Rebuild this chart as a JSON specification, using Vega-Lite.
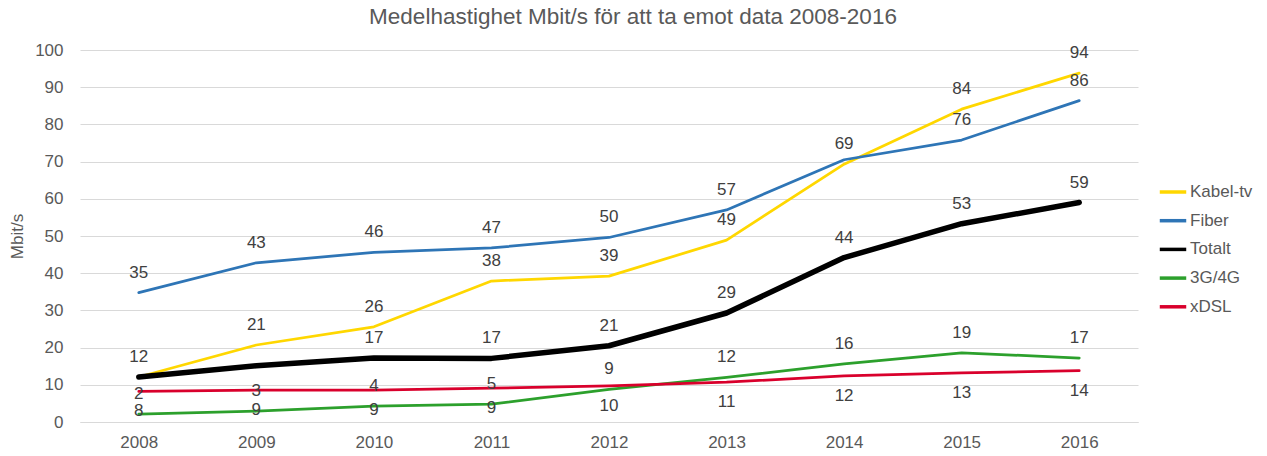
{
  "$schema": "https://vega.github.io/schema/vega-lite/v6.json",
  "width": 1058,
  "height": 372,
  "autosize": {"type": "none"},
  "padding": {"left": 80, "top": 50, "right": 129, "bottom": 34},
  "background": "white",
  "title": {
    "text": "Medelhastighet Mbit/s för att ta emot data 2008-2016",
    "font": "Liberation Sans",
    "fontSize": 22.5,
    "fontWeight": "normal",
    "color": "#595959",
    "anchor": "middle",
    "dx": 24,
    "offset": 13
  },
  "config": {
    "view": {"stroke": null},
    "font": "Liberation Sans"
  },
  "data": {
    "values": [
      {"year": "2008", "series": "Kabel-tv", "value": 12.1, "label": "12"},
      {"year": "2009", "series": "Kabel-tv", "value": 20.7, "label": "21"},
      {"year": "2010", "series": "Kabel-tv", "value": 25.6, "label": "26"},
      {"year": "2011", "series": "Kabel-tv", "value": 37.9, "label": "38"},
      {"year": "2012", "series": "Kabel-tv", "value": 39.2, "label": "39"},
      {"year": "2013", "series": "Kabel-tv", "value": 48.9, "label": "49"},
      {"year": "2014", "series": "Kabel-tv", "value": 69.3, "label": "69"},
      {"year": "2015", "series": "Kabel-tv", "value": 84.1, "label": "84"},
      {"year": "2016", "series": "Kabel-tv", "value": 93.8, "label": "94"},
      {"year": "2008", "series": "Fiber", "value": 34.8, "label": "35"},
      {"year": "2009", "series": "Fiber", "value": 42.8, "label": "43"},
      {"year": "2010", "series": "Fiber", "value": 45.6, "label": "46"},
      {"year": "2011", "series": "Fiber", "value": 46.8, "label": "47"},
      {"year": "2012", "series": "Fiber", "value": 49.6, "label": "50"},
      {"year": "2013", "series": "Fiber", "value": 57.0, "label": "57"},
      {"year": "2014", "series": "Fiber", "value": 70.5, "label": null},
      {"year": "2015", "series": "Fiber", "value": 75.8, "label": "76"},
      {"year": "2016", "series": "Fiber", "value": 86.4, "label": "86"},
      {"year": "2008", "series": "Totalt", "value": 12.1, "label": null},
      {"year": "2009", "series": "Totalt", "value": 15.1, "label": null},
      {"year": "2010", "series": "Totalt", "value": 17.2, "label": "17"},
      {"year": "2011", "series": "Totalt", "value": 17.1, "label": "17"},
      {"year": "2012", "series": "Totalt", "value": 20.5, "label": "21"},
      {"year": "2013", "series": "Totalt", "value": 29.3, "label": "29"},
      {"year": "2014", "series": "Totalt", "value": 44.2, "label": "44"},
      {"year": "2015", "series": "Totalt", "value": 53.3, "label": "53"},
      {"year": "2016", "series": "Totalt", "value": 59.0, "label": "59"},
      {"year": "2008", "series": "3G/4G", "value": 2.1, "label": "2"},
      {"year": "2009", "series": "3G/4G", "value": 2.9, "label": "3"},
      {"year": "2010", "series": "3G/4G", "value": 4.3, "label": "4"},
      {"year": "2011", "series": "3G/4G", "value": 4.8, "label": "5"},
      {"year": "2012", "series": "3G/4G", "value": 8.8, "label": "9"},
      {"year": "2013", "series": "3G/4G", "value": 12.0, "label": "12"},
      {"year": "2014", "series": "3G/4G", "value": 15.6, "label": "16"},
      {"year": "2015", "series": "3G/4G", "value": 18.6, "label": "19"},
      {"year": "2016", "series": "3G/4G", "value": 17.2, "label": "17"},
      {"year": "2008", "series": "xDSL", "value": 8.2, "label": "8"},
      {"year": "2009", "series": "xDSL", "value": 8.6, "label": "9"},
      {"year": "2010", "series": "xDSL", "value": 8.6, "label": "9"},
      {"year": "2011", "series": "xDSL", "value": 9.1, "label": "9"},
      {"year": "2012", "series": "xDSL", "value": 9.7, "label": "10"},
      {"year": "2013", "series": "xDSL", "value": 10.7, "label": "11"},
      {"year": "2014", "series": "xDSL", "value": 12.4, "label": "12"},
      {"year": "2015", "series": "xDSL", "value": 13.2, "label": "13"},
      {"year": "2016", "series": "xDSL", "value": 13.8, "label": "14"}
    ]
  },
  "encoding": {
    "x": {
      "field": "year",
      "type": "ordinal",
      "scale": {"type": "point", "padding": 0.5},
      "axis": {
        "title": null,
        "labelAngle": 0,
        "labelFont": "Liberation Sans",
        "labelFontSize": 17,
        "labelColor": "#595959",
        "labelPadding": 12,
        "ticks": false,
        "domain": true,
        "domainColor": "#d9d9d9",
        "domainWidth": 1,
        "grid": false
      }
    },
    "y": {
      "field": "value",
      "type": "quantitative",
      "scale": {"domain": [0, 100], "nice": false},
      "axis": {
        "title": "Mbit/s",
        "titleFont": "Liberation Sans",
        "titleFontSize": 17,
        "titleFontWeight": "normal",
        "titleColor": "#595959",
        "titlePadding": 8,
        "values": [0, 10, 20, 30, 40, 50, 60, 70, 80, 90, 100],
        "labelFont": "Liberation Sans",
        "labelFontSize": 17,
        "labelColor": "#595959",
        "labelPadding": 17,
        "ticks": false,
        "domain": false,
        "grid": true,
        "gridColor": "#d9d9d9",
        "gridWidth": 1
      }
    }
  },
  "layer": [
    {
      "mark": {"type": "line", "strokeCap": "round", "strokeJoin": "round"},
      "encoding": {
        "color": {
          "field": "series",
          "type": "nominal",
          "scale": {
            "domain": ["Kabel-tv", "Fiber", "Totalt", "3G/4G", "xDSL"],
            "range": ["#FFD700", "#2E75B6", "#000000", "#2CA02C", "#D9002C"]
          },
          "legend": {
            "title": null,
            "orient": "none",
            "legendX": 1078,
            "legendY": 127,
            "symbolType": "stroke",
            "symbolSize": 700,
            "symbolStrokeWidth": 3.5,
            "labelFont": "Liberation Sans",
            "labelFontSize": 17,
            "labelColor": "#595959",
            "rowPadding": 5.7,
            "labelOffset": 2
          }
        },
        "strokeWidth": {
          "condition": {"test": "datum.series == 'Totalt'", "value": 5.5},
          "value": 2.75
        },
        "order": {"field": "year"}
      }
    },
    {
      "transform": [{"filter": "datum.label != null && datum.series != 'xDSL'"}],
      "mark": {"type": "text", "dy": -20, "fontSize": 17, "font": "Liberation Sans", "color": "#404040", "baseline": "middle"},
      "encoding": {"text": {"field": "label"}}
    },
    {
      "transform": [{"filter": "datum.label != null && datum.series == 'xDSL'"}],
      "mark": {"type": "text", "dy": 20, "fontSize": 17, "font": "Liberation Sans", "color": "#404040", "baseline": "middle"},
      "encoding": {"text": {"field": "label"}}
    }
  ]
}
